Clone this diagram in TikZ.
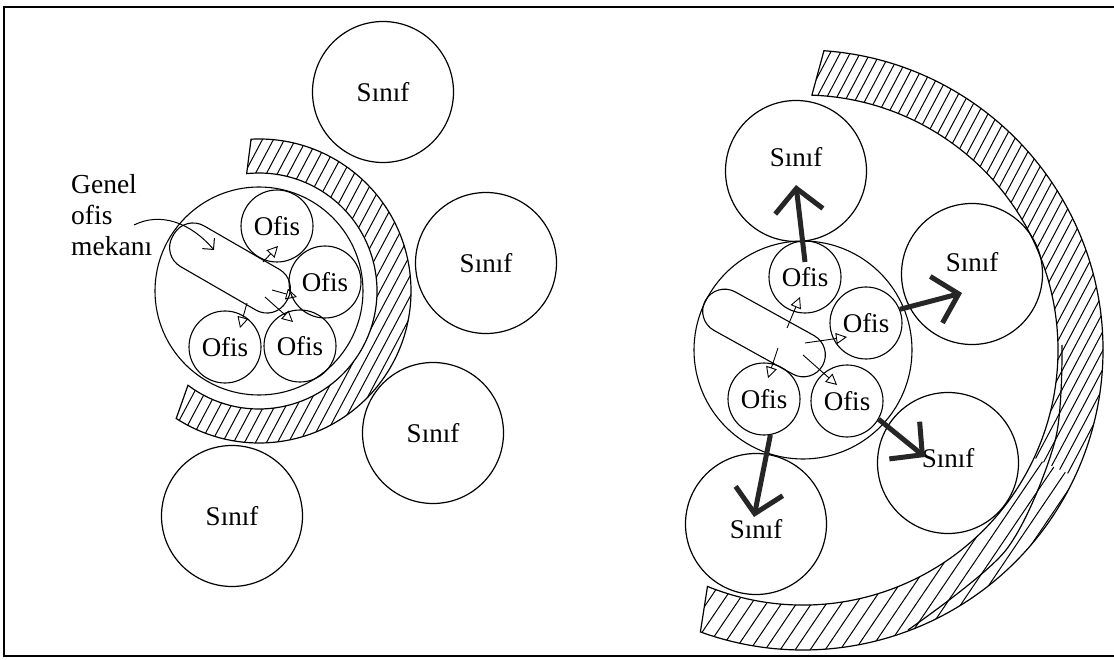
\documentclass[tikz,border=0pt]{standalone}
\usepackage{fontspec}
\setmainfont{Liberation Serif}
\usetikzlibrary{arrows.meta,calc,positioning}

\tikzset{
  sinif/.style={draw, circle, line width=1.2pt, minimum size=141pt, inner sep=0pt,
    font=\fontsize{27}{30}\selectfont},
  ofis/.style={draw, circle, line width=1.1pt, minimum size=72pt, inner sep=0pt,
    font=\fontsize{27}{30}\selectfont},
  bolge/.style={draw, circle, line width=1.1pt, inner sep=0pt},
  genel/.style={draw, line width=1.1pt, rounded corners=22pt, inner sep=0pt},
  duvar/.style={line width=1.2pt},
  tarama/.style={line width=1pt},
  ince/.style={line width=0.9pt, -{Triangle[open, length=11pt, width=11pt]}},
  kalin/.style={line width=5pt, draw=black!85, -{Straight Barb[length=23pt, width=48pt]}},
}

\begin{document}
\begin{tikzpicture}[x=1pt, y=-1pt]
  \useasboundingbox (0,0) rectangle (1114,660);
  % Marco
  \draw[line width=2.2pt] (1114,7) -- (4,7) -- (4,656) -- (1114,656);

  % Esquema izquierdo: oficinas agrupadas
  \node[bolge, minimum size=208pt] (bolgeSol) at (259,291) {};
  \node[genel, minimum width=131pt, minimum height=47pt, rotate=-30] (genelSol) at (230,268) {};
  \node[ofis] (solO1) at (277,226) {Ofis};
  \node[ofis] (solO2) at (325,282) {Ofis};
  \node[ofis] (solO3) at (225,347) {Ofis};
  \node[ofis] (solO4) at (300,346) {Ofis};

  % Muro del esquema izquierdo
  \draw[duvar] ([shift={(-93:152)}]bolgeSol.center) arc[start angle=-93, end angle=123, radius=152]
    -- ([shift={(127:118)}]bolgeSol.center) arc[start angle=127, end angle=-96, radius=118] -- cycle;
  \begin{scope}
    \clip ([shift={(-93:152)}]bolgeSol.center) arc[start angle=-93, end angle=123, radius=152]
      -- ([shift={(127:118)}]bolgeSol.center) arc[start angle=127, end angle=-96, radius=118] -- cycle;
    \foreach \k in {-18,...,18}
      \draw[tarama] ($(bolgeSol.center)+(\k*11-170,320)$) -- ++(340,-640);
  \end{scope}

  % Aulas alrededor
  \node[sinif] (solS1) at (383,92) {Sınıf};
  \node[sinif] (solS2) at (486,263) {Sınıf};
  \node[sinif] (solS3) at (433,433) {Sınıf};
  \node[sinif] (solS4) at (232,516) {Sınıf};

  % Rótulo y flechas finas
  \node[align=left, anchor=north west, inner sep=0pt, font=\fontsize{27.5}{31}\selectfont] (etiket) at (71,174) {Genel\\ofis\\mekanı};
  \coordinate (cizgi) at (134,225);
  \draw[line width=1pt, -{Straight Barb[length=8pt, width=16pt]}] (cizgi) .. controls (160,212) and (190,222) .. ([shift={(-16pt,18pt)}]genelSol.center);
  \draw[ince] ([shift={(33pt,6pt)}]genelSol.center) -- ([shift={(1pt,-20pt)}]solO1.center);
  \draw[ince] ([shift={(42pt,-22pt)}]genelSol.center) -- ([shift={(-28pt,-15pt)}]solO2.center);
  \draw[ince] ([shift={(17pt,-35pt)}]genelSol.center) -- ([shift={(15pt,19pt)}]solO3.center);
  \draw[ince] ([shift={(35pt,-29pt)}]genelSol.center) -- ([shift={(-7pt,24pt)}]solO4.center);

  % Esquema derecho: oficinas en el centro
  \node[bolge, minimum size=218pt] (bolgeSag) at (803,350) {};
  \node[genel, minimum width=134pt, minimum height=44pt, rotate=-29] (genelSag) at (764,333) {};
  \node[ofis] (sagO1) at (805,277) {Ofis};
  \node[ofis] (sagO2) at (866,323) {Ofis};
  \node[ofis] (sagO3) at (764,399) {Ofis};
  \node[ofis] (sagO4) at (847,401) {Ofis};

  % Muro exterior (rayado más abierto abajo)
  \draw[duvar] ([shift={(-86:300)}]bolgeSag.center) arc[start angle=-86, end angle=110, radius=300]
    -- ([shift={(112:255)}]bolgeSag.center) arc[start angle=112, end angle=-88, radius=255] -- cycle;
  \draw[duvar] plot[smooth] coordinates {(1062,345) (1055,441) (1006,550) (908,630)};
  \begin{scope}
    \clip ([shift={(-86:300)}]bolgeSag.center) arc[start angle=-86, end angle=110, radius=300]
      -- ([shift={(112:255)}]bolgeSag.center) arc[start angle=112, end angle=-88, radius=255] -- cycle;
    \begin{scope}
      \clip (bolgeSag.center) -- ++(25:420) -- (1200,-10) -- (600,-10) -- (600,700) -- cycle;
      \foreach \k in {-36,...,36}
        \draw[tarama] ($(bolgeSag.center)+(\k*10-180,340)$) -- ++(360,-680);
    \end{scope}
    \clip (bolgeSag.center) -- ++(25:420) -- (1200,700) -- (600,700) -- cycle;
    \foreach \k in {-24,...,24}
      \draw[tarama] ($(bolgeSag.center)+(\k*15-230,340)$) -- ++(460,-680);
  \end{scope}

  % Aulas del esquema derecho
  \node[sinif, text depth=29pt] (sagS1) at (796,171) {Sınıf};
  \node[sinif, text depth=25pt] (sagS2) at (972,274) {Sınıf};
  \node[sinif, text depth=11pt] (sagS3) at (948,463) {Sınıf};
  \node[sinif, text height=29pt] (sagS4) at (756,524) {Sınıf};

  % Flechas finas hacia las oficinas
  \draw[ince] ([shift={(23pt,5pt)}]genelSag.center) -- ([shift={(-5pt,-20pt)}]sagO1.center);
  \draw[ince] ([shift={(41pt,-10pt)}]genelSag.center) -- ([shift={(-19pt,-14pt)}]sagO2.center);
  \draw[ince] ([shift={(14pt,-15pt)}]genelSag.center) -- ([shift={(4pt,21pt)}]sagO3.center);
  \draw[ince] ([shift={(39pt,-22pt)}]genelSag.center) -- ([shift={(-10pt,16pt)}]sagO4.center);

  % Flechas gruesas hacia las aulas
  \draw[kalin] ([yshift=15pt]sagO1.center) -- ([yshift=-14pt]sagS1.center);
  \draw[kalin] (sagO2.22) -- ([shift={(-10pt,-19pt)}]sagS2.center);
  \draw[kalin] (sagO3.-80) -- ([shift={(-2pt,7pt)}]sagS4.center);
  \draw[kalin] (sagO4.-30) -- ([shift={(-23pt,6pt)}]sagS3.center);
\end{tikzpicture}
\end{document}
